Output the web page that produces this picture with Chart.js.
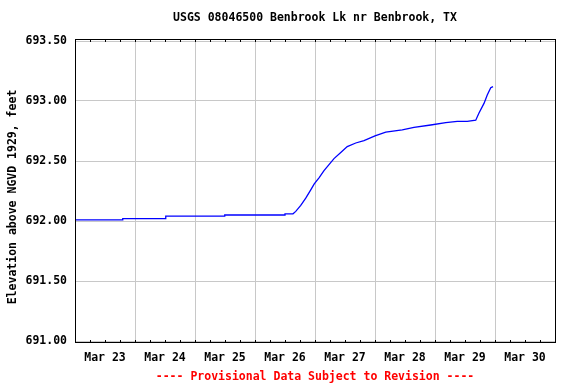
<!DOCTYPE html>
<html>
<head>
<meta charset="utf-8">
<script src="https://cdn.jsdelivr.net/npm/chart.js@4.4.1/dist/chart.umd.min.js"></script>
<style>
  html, body { margin: 0; padding: 0; background: #fff; }
  #wrap { width: 576px; height: 384px; }
</style>
</head>
<body>
<div id="wrap"><canvas id="chart" width="576" height="384"></canvas></div>
<script>
// hours since Mar 23 00:00 and lake elevation (ft, NGVD 1929)
const hours = [0, 19.1, 19.1, 36.3, 36.3, 59.9, 59.9, 84, 84, 87.2,
  88.3, 90.3, 92.3, 94.3, 95.7, 97.6, 99.6, 101.6, 103.6, 106.3,
  108.9, 112.3, 115.6, 120, 124.3, 130.9, 135.6, 142.3, 148.3, 152.9,
  156.9, 160.3, 161.6, 163.6, 164.9, 166.3, 167.2];
const elevation = [692.01, 692.01, 692.02, 692.02, 692.04, 692.04, 692.05, 692.05, 692.06, 692.06,
  692.08, 692.13, 692.19, 692.26, 692.31, 692.36, 692.42, 692.47, 692.52, 692.57,
  692.62, 692.65, 692.67, 692.71, 692.74, 692.76, 692.78, 692.80, 692.82, 692.83,
  692.83, 692.84, 692.90, 692.98, 693.05, 693.11, 693.12];

const dayLabels = ['Mar 23', 'Mar 24', 'Mar 25', 'Mar 26', 'Mar 27', 'Mar 28', 'Mar 29', 'Mar 30'];
const minorTickHours = [];
for (let h = 6; h < 192; h += 6) minorTickHours.push(h);

const titleText = 'USGS 08046500 Benbrook Lk nr Benbrook, TX';
const yTitleText = 'Elevation above NGVD 1929, feet';
const footerText = '---- Provisional Data Subject to Revision ----';

const FONT = 'DejaVu Sans Mono';

// frame, minor ticks and the extra texts
const decorations = {
  id: 'decorations',
  afterDraw(chart) {
    const { ctx, chartArea: a, scales } = chart;
    const x = scales.x;
    ctx.save();
    ctx.strokeStyle = '#000';
    ctx.lineWidth = 1;
    ctx.strokeRect(a.left + 0.5, a.top - 1.5, a.right - a.left, a.bottom - a.top + 3);

    ctx.beginPath();
    minorTickHours.forEach(h => {
      const px = Math.round(x.getPixelForValue(h)) + 0.5;
      ctx.moveTo(px, a.top - 1);
      ctx.lineTo(px, a.top + 1);
      ctx.moveTo(px, a.bottom + 2);
      ctx.lineTo(px, a.bottom - 1);
    });
    ctx.stroke();

    const cx = (a.left + a.right) / 2;
    ctx.font = 'bold 11.5px ' + FONT;
    ctx.textAlign = 'center';
    ctx.textBaseline = 'middle';
    ctx.fillStyle = '#000';
    ctx.fillText(titleText, cx, 18);

    ctx.fillStyle = '#ff0000';
    ctx.fillText(footerText, cx, 377);

    ctx.fillStyle = '#000';
    ctx.translate(13, 197);
    ctx.rotate(-Math.PI / 2);
    ctx.fillText(yTitleText, 0, 0);
    ctx.restore();
  }
};

new Chart(document.getElementById('chart'), {
  type: 'line',
  data: {
    datasets: [{
      data: hours.map((h, i) => ({ x: h, y: elevation[i] })),
      borderColor: '#0000ff',
      borderWidth: 1.3,
      pointRadius: 0,
      tension: 0,
      fill: false
    }]
  },
  options: {
    responsive: false,
    animation: false,
    devicePixelRatio: 1,
    layout: { padding: { top: 41, right: 21, left: 0, bottom: 0 } },
    plugins: {
      legend: { display: false },
      tooltip: { enabled: false },
      title: { display: false }
    },
    scales: {
      x: {
        type: 'linear',
        min: 0,
        max: 192,
        afterFit: s => { s.height = 43; },
        afterBuildTicks: s => {
          s.ticks = [];
          for (let h = 0; h <= 192; h += 12) s.ticks.push({ value: h });
        },
        border: { display: false },
        grid: {
          drawTicks: false,
          lineWidth: 1,
          color: c => (c.tick && c.tick.value % 24 === 0 && c.tick.value > 0 && c.tick.value < 192) ? '#c8c8c8' : 'rgba(0,0,0,0)'
        },
        ticks: {
          autoSkip: false,
          maxRotation: 0,
          padding: 10,
          color: '#000',
          font: { family: FONT, size: 11.5, weight: 'bold' },
          callback: v => (v % 24 === 12 ? dayLabels[Math.floor(v / 24)] : '')
        }
      },
      y: {
        min: 691,
        max: 693.5,
        afterFit: s => { s.width = 75; },
        border: { display: false },
        grid: { drawTicks: false, color: '#c8c8c8', lineWidth: 1 },
        ticks: {
          stepSize: 0.5,
          padding: 8,
          color: '#000',
          font: { family: FONT, size: 11.5, weight: 'bold' },
          callback: v => v.toFixed(2)
        }
      }
    }
  },
  plugins: [decorations]
});
</script>
</body>
</html>
